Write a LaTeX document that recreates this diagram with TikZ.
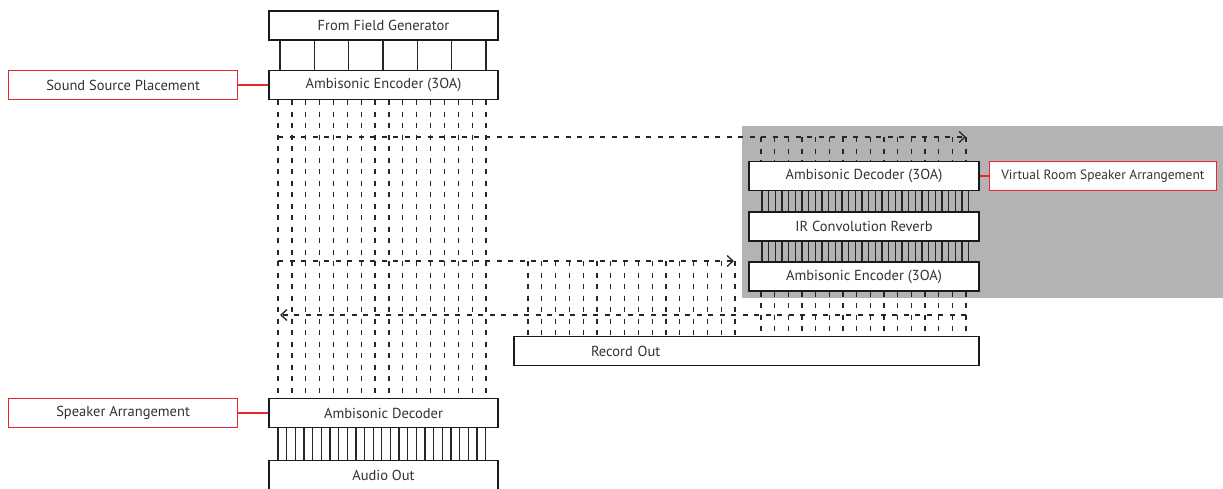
\documentclass[tikz,border=0pt]{standalone}
\usepackage{fontspec}
\setmainfont{PT Sans}
\usepackage{tikz}
\usetikzlibrary{arrows.meta,positioning}
\definecolor{tagred}{RGB}{232,38,44}
\definecolor{roomgray}{RGB}{179,179,179}
\definecolor{inkgray}{RGB}{50,50,50}
\tikzset{
  blk/.style={draw=black!90, line width=1.4pt, fill=white, text=inkgray, font=\fontsize{14.5}{17}\selectfont, inner sep=0pt, minimum width=229pt, minimum height=29pt},
  tagbox/.style={blk, draw=tagred},
  wire/.style={line width=1.3pt, draw=black!85},
  dwire/.style={wire, dash pattern=on 5pt off 6.5pt},
  darr/.style={dwire, -{Straight Barb[length=6pt,width=11pt]}},
  tagline/.style={draw=tagred, line width=1.1pt}
}

\begin{document}
\begin{tikzpicture}[x=1pt, y=-1pt]
\useasboundingbox (0,0) rectangle (1223,488);
\fill[roomgray] (742,126) rectangle (1223,298);

% main chain
\node[blk] (src) at (383.5,25.5) {From Field Generator};
\node[blk] (enc) at (383.5,85) {Ambisonic Encoder (3OA)};
\node[blk] (dec) at (383.5,413) {Ambisonic Decoder};
\node[blk] (out) at (383.5,475) {Audio Out};
\node[tagbox, left=30pt of enc] (place) {Sound Source Placement};
\node[tagbox, left=30pt of dec] (spk) {Speaker Arrangement};

% virtual room
\node[blk, minimum width=230pt] (vdec) at (864,176) {Ambisonic Decoder (3OA)};
\node[blk, minimum width=230pt] (conv) at (864,226.5) {IR Convolution Reverb};
\node[blk, minimum width=230pt] (venc) at (864,276.5) {Ambisonic Encoder (3OA)};
\node[tagbox, right=9pt of vdec, minimum width=227pt, font=\fontsize{13.5}{16}\selectfont] (vroom) {Virtual Room Speaker Arrangement};
\node[blk, minimum width=465pt, text width=311pt, inner xsep=77pt, align=left] (rec) at (746.5,351) {Record Out};

\draw[tagline] (place) -- (enc);
\draw[tagline] (spk) -- (dec);
\draw[tagline] (vdec) -- (vroom);

% solid channel bundles
\foreach \i [evaluate=\i as \x using 280+34.33*\i] in {0,...,6}
  \draw[wire] (\x,0 |- src.south) -- (\x,0 |- enc.north);
\foreach \i [evaluate=\i as \x using 278+8.65*\i] in {0,...,24}
  \draw[wire] (\x,0 |- dec.south) -- (\x,0 |- out.north);
\foreach \i [evaluate=\i as \x using 762+6.67*\i] in {0,...,31} {
  \draw[wire] (\x,0 |- vdec.south) -- (\x,0 |- conv.north);
  \draw[wire] (\x,0 |- conv.south) -- (\x,0 |- venc.north);
}

% 3OA bundles (dashed)
\coordinate (sendA) at (278,137);
\coordinate (sendAend) at (966,137);
\coordinate (sendB) at (278,261);
\coordinate (sendBend) at (734,261);
\coordinate (ret) at (966,315);
\coordinate (retend) at (280,315);
\foreach \i [evaluate=\i as \x using 278+13.87*\i] in {0,...,15}
  \draw[dwire] (\x,0 |- enc.south) -- (\x,0 |- dec.north);
\foreach \i [evaluate=\i as \x using 761+13.67*\i] in {0,...,15} {
  \draw[dwire] (\x,0 |- sendA) -- (\x,0 |- vdec.north);
  \draw[dwire] (\x,0 |- venc.south) -- (\x,0 |- rec.north);
}
\foreach \i [evaluate=\i as \x using 528+13.8*\i] in {0,...,15}
  \draw[dwire] (\x,0 |- sendB) -- (\x,0 |- rec.north);
\draw[darr] (sendA) -- (sendAend);
\draw[darr] (sendB) -- (sendBend);
\draw[darr] (ret) -- (retend);
\end{tikzpicture}
\end{document}
